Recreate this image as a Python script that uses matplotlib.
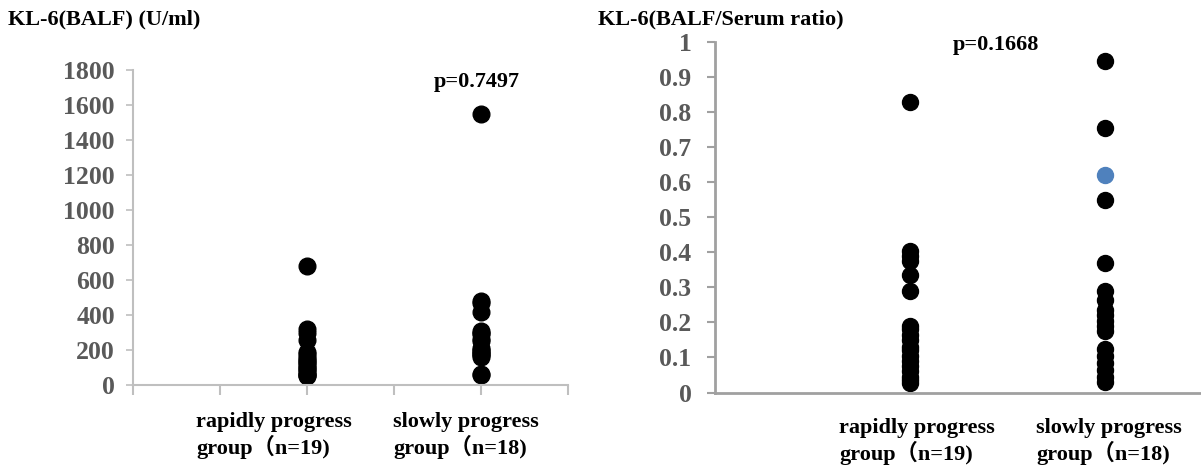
import matplotlib
matplotlib.use("Agg")
from matplotlib import pyplot as plt

# values
balf_rapid = [680, 320, 300, 260, 190, 175, 160, 150, 140, 130, 120, 110, 100, 90, 80, 70, 60, 55, 50]
balf_slow = [1550, 480, 470, 415, 310, 300, 290, 265, 250, 210, 200, 195, 185, 180, 170, 160, 65, 60]

ratio_rapid = [0.83, 0.405, 0.39, 0.375, 0.335, 0.29, 0.19, 0.18, 0.165, 0.15, 0.13, 0.12,
               0.105, 0.09, 0.075, 0.06, 0.045, 0.035, 0.028]
ratio_slow = [0.945, 0.755, 0.55, 0.37, 0.29, 0.265, 0.235, 0.22, 0.205, 0.19, 0.175,
              0.125, 0.105, 0.085, 0.065, 0.045, 0.03]
ratio_slow_blue = [0.62]

group_labels = ["rapidly progress\ngroup（n=19)", "slowly progress\ngroup（n=18)"]
p_left = "p=0.7497"
p_right = "p=0.1668"

fam = ['Liberation Serif', 'Noto Sans CJK SC']
tick_col = '#595959'
fs = 16

fig = plt.figure(figsize=(12.01, 4.71), dpi=100)

# left panel
ax1 = fig.add_axes([133 / 1201, 1 - 385 / 471, 435 / 1201, 315 / 471])
ax1.plot([1] * len(balf_rapid), balf_rapid, 'o', color='black', markersize=12, clip_on=False)
ax1.plot([2] * len(balf_slow), balf_slow, 'o', color='black', markersize=12, clip_on=False)
ax1.set_xlim(0, 2.5)
ax1.set_ylim(0, 1800)
ax1.set_yticks(range(0, 1801, 200))
ax1.set_xticks([0, 0.5, 1, 1.5, 2, 2.5])
ax1.set_xticklabels([])
for s in ['top', 'right']:
    ax1.spines[s].set_visible(False)
for s in ['left', 'bottom']:
    ax1.spines[s].set_color('#bfbfbf')
    ax1.spines[s].set_linewidth(1.5)
ax1.tick_params(axis='y', direction='out', length=5, width=1.2, color='#bfbfbf', pad=8)
ax1.tick_params(axis='x', direction='out', length=7, width=1.5, color='#bfbfbf')
for lab in ax1.get_yticklabels():
    lab.set_fontfamily(fam)
    lab.set_fontweight('bold')
    lab.set_fontsize(18.5)
    lab.set_color(tick_col)

# right panel
ax2 = fig.add_axes([715 / 1201, 1 - 392.5 / 471, 487 / 1201, 350.5 / 471])
ax2.plot([1] * len(ratio_rapid), ratio_rapid, 'o', color='black', markersize=11.5, clip_on=False)
ax2.plot([2] * len(ratio_slow), ratio_slow, 'o', color='black', markersize=11.5, clip_on=False)
ax2.plot([2] * len(ratio_slow_blue), ratio_slow_blue, 'o', color='#4f81bd', markersize=11.5, clip_on=False)
ax2.set_xlim(0, 2.5)
ax2.set_ylim(0, 1)
ax2.set_yticks([0, 0.1, 0.2, 0.3, 0.4, 0.5, 0.6, 0.7, 0.8, 0.9, 1])
ax2.set_yticklabels(['0', '0.1', '0.2', '0.3', '0.4', '0.5', '0.6', '0.7', '0.8', '0.9', '1'])
ax2.set_xticks([])
for s in ['top', 'right']:
    ax2.spines[s].set_visible(False)
for s in ['left', 'bottom']:
    ax2.spines[s].set_color('#a0a0a0')
    ax2.spines[s].set_linewidth(2)
ax2.tick_params(axis='y', direction='out', length=6, width=1.5, color='#a0a0a0', pad=11)
for lab in ax2.get_yticklabels():
    lab.set_fontfamily(fam)
    lab.set_fontweight('bold')
    lab.set_fontsize(18.5)
    lab.set_color(tick_col)

# titles and annotations
fig.text(8 / 1201, 1 - 19 / 471, "KL-6(BALF) (U/ml)", family=fam, weight='bold',
         fontsize=fs, va='center', ha='left')
fig.text(598 / 1201, 1 - 19 / 471, "KL-6(BALF/Serum ratio)", family=fam, weight='bold',
         fontsize=fs, va='center', ha='left')
fig.text(477 / 1201, 1 - 82 / 471, p_left, family=fam, weight='bold',
         fontsize=fs, va='center', ha='center')
fig.text(996 / 1201, 1 - 45 / 471, p_right, family=fam, weight='bold',
         fontsize=fs, va='center', ha='center')

for x0, lab in zip([196, 393], group_labels):
    fig.text(x0 / 1201, 1 - 412 / 471, lab, family=fam, weight='bold',
             fontsize=fs, va='top', ha='left', linespacing=1.15)
for x0, lab in zip([839, 1036], group_labels):
    fig.text(x0 / 1201, 1 - 418 / 471, lab, family=fam, weight='bold',
             fontsize=fs, va='top', ha='left', linespacing=1.15)

fig.savefig("out.png", dpi=100)
